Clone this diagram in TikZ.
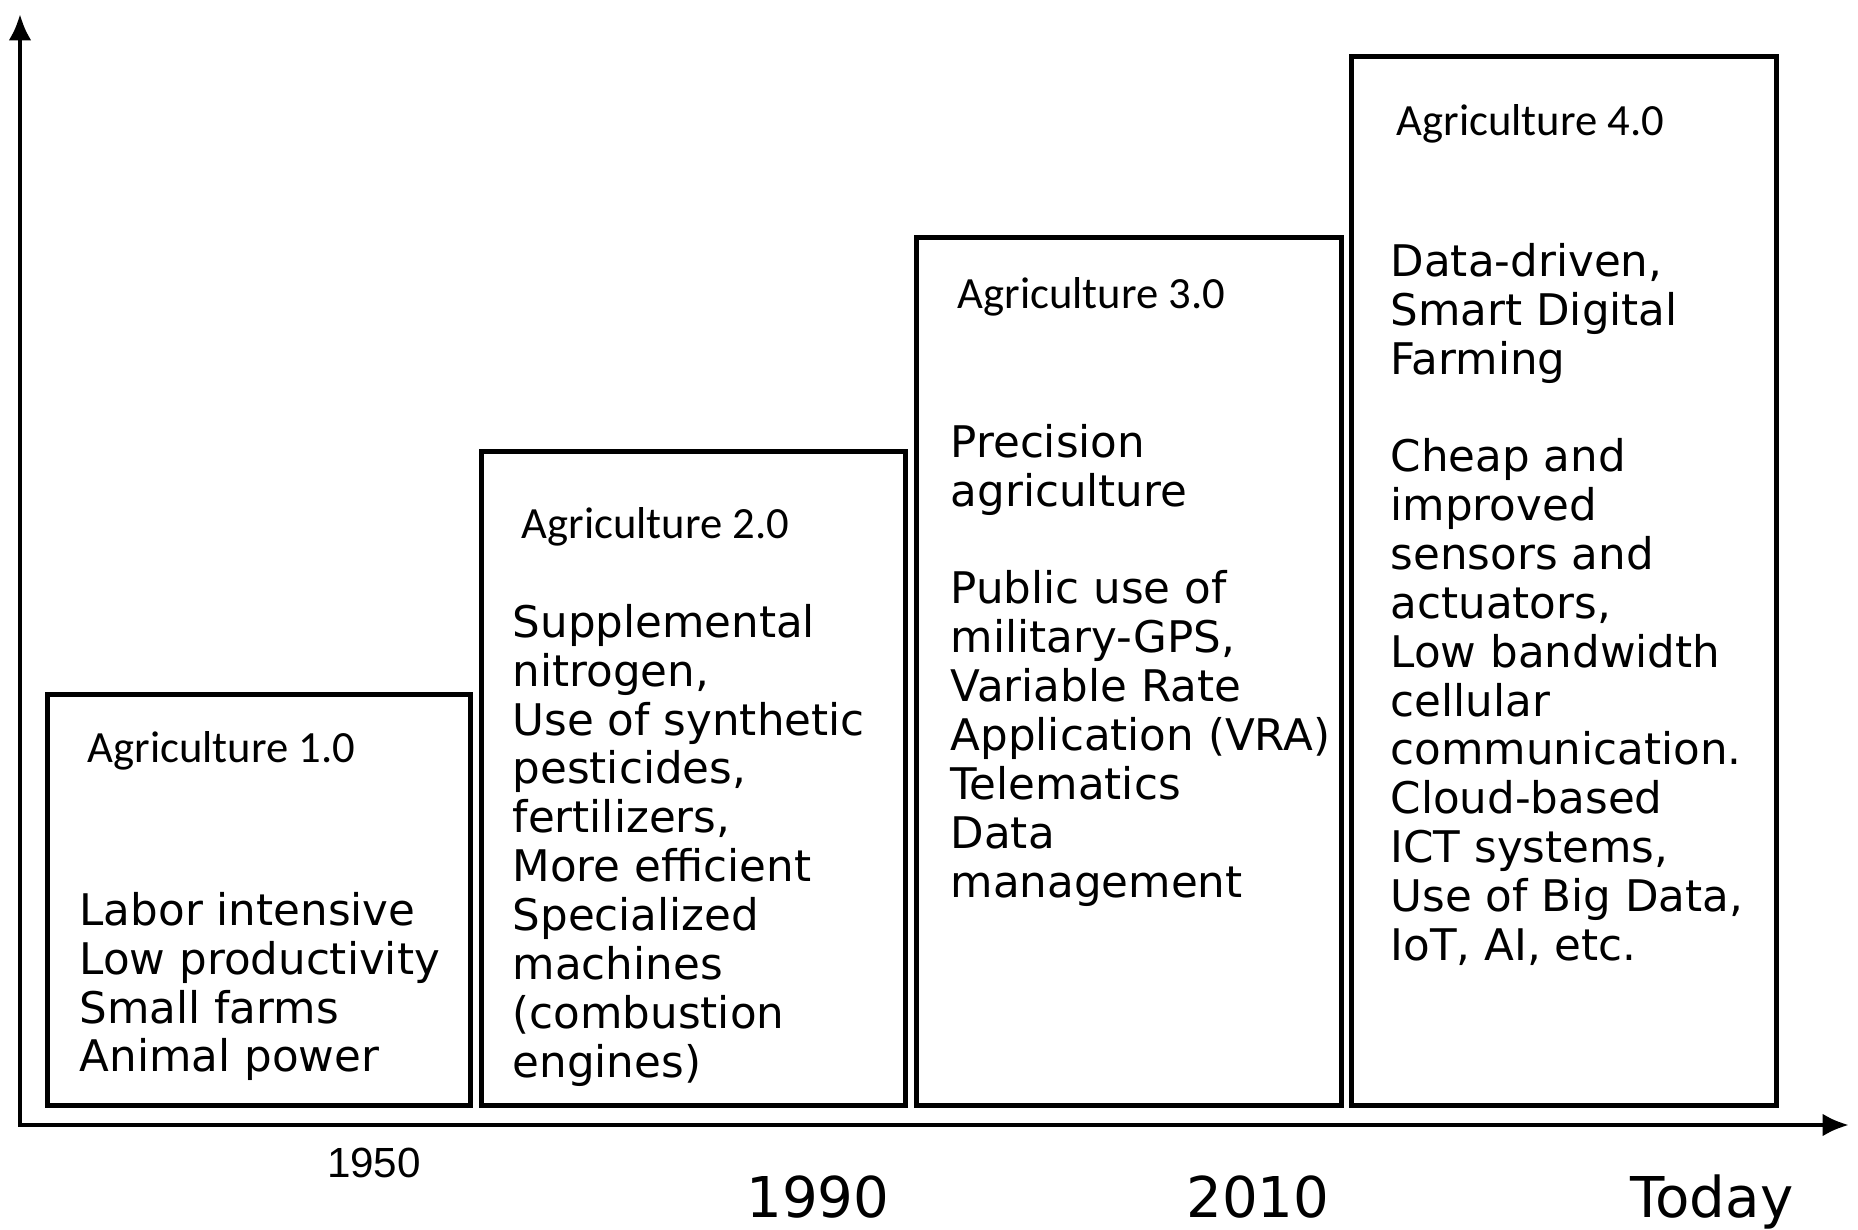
\documentclass[tikz,border=0pt]{standalone}
\usepackage{fontspec}
\setmainfont{DejaVu Sans}
\newfontfamily\headfont{Carlito}
\newfontfamily\yearfont{Liberation Sans}
\usetikzlibrary{calc,arrows.meta}

\tikzset{
  era/.style 2 args={draw, line width=1.3pt, anchor=south west, inner sep=0pt,
    minimum width=#1, minimum height=#2},
  head/.style={anchor=base west, inner sep=0pt, font=\headfont\fontsize{12.7}{15}\selectfont},
  body/.style={anchor=base west, inner sep=0pt, font=\fontsize{12.4}{13.9}\selectfont},
  year/.style={anchor=base, inner sep=0pt, font=\fontsize{16}{19}\selectfont},
  axis/.style={line width=1.3pt, {Latex[length=7.5pt,width=6.5pt]}-{Latex[length=7.5pt,width=6.5pt]}}
}

\begin{document}
\begin{tikzpicture}

\useasboundingbox (0,0) rectangle (18.58,12.29);

% baseline of the boxes
\def\B{1.21}

% axes
\coordinate (O) at (0.20,1.04);
\coordinate (Ytip) at (0.20,12.15);
\coordinate (Xtip) at (18.49,1.04);
\draw[axis] (Ytip) -- (O) -- (Xtip);

% Agriculture 1.0
\node[era={4.23cm}{4.11cm}] (era1) at (0.45,\B) {};
\node[head] (head1) at ($(era1.north west)+(0.42,-0.70)$) {Agriculture 1.0};
\node[body] (body1) at ($(era1.north west)+(0.34,-2.33)$) {\parbox[t]{4cm}{%
  Labor intensive\\Low productivity\\Small farms\\Animal power}};

% Agriculture 2.0
\node[era={4.24cm}{6.54cm}] (era2) at (4.79,\B) {};
\node[head] (head2) at ($(era2.north west)+(0.42,-0.89)$) {Agriculture 2.0};
\node[body] (body2) at ($(era2.north west)+(0.33,-1.88)$) {\parbox[t]{4cm}{%
  Supplemental\\nitrogen,\\Use of synthetic\\pesticides,\\fertilizers,\\
  More efficient\\Specialized\\machines\\(combustion\\engines)}};

% Agriculture 3.0
\node[era={4.25cm}{8.68cm}] (era3) at (9.14,\B) {};
\node[head] (head3) at ($(era3.north west)+(0.43,-0.73)$) {Agriculture 3.0};
\node[body] (body3) at ($(era3.north west)+(0.36,-2.22)$) {\parbox[t]{4cm}{%
  Precision\\agriculture\\[13.9pt]
  Public use of\\military-GPS,\\Variable Rate\\Application (VRA)\\
  Telematics\\Data\\management}};

% Agriculture 4.0
\node[era={4.25cm}{10.49cm}] (era4) at (13.49,\B) {};
\node[head] (head4) at ($(era4.north west)+(0.47,-0.81)$) {Agriculture 4.0};
\node[body] (body4) at ($(era4.north west)+(0.41,-2.22)$) {\parbox[t]{4cm}{%
  Data-driven,\\Smart Digital\\Farming\\[13.9pt]
  Cheap and\\improved\\sensors and\\actuators,\\Low bandwidth\\cellular\\
  communication.\\Cloud-based\\ICT systems,\\Use of Big Data,\\IoT, AI, etc.}};

% years
\node[year, font=\yearfont\fontsize{12}{14}\selectfont] (y1950) at (3.74,0.51) {1950};
\node[year] (y1990) at (8.18,0.12) {1990};
\node[year] (y2010) at (12.58,0.12) {2010};
\node[year] (ytoday) at (17.12,0.12) {Today};

\end{tikzpicture}
\end{document}
